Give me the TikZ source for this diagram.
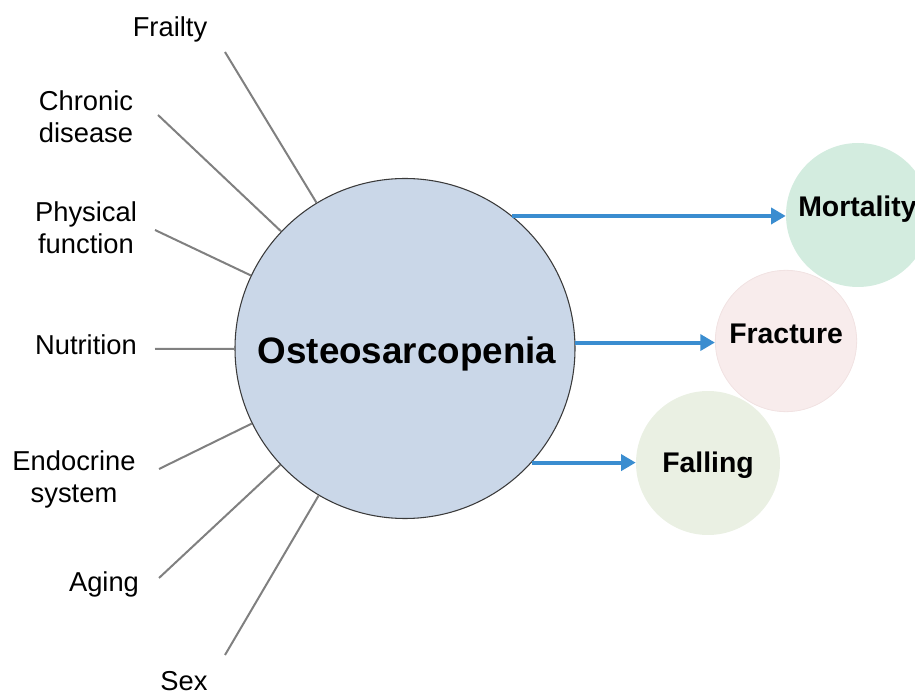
\documentclass[tikz,border=0pt]{standalone}
\usepackage{fontspec}
\setmainfont{Liberation Sans}
\usetikzlibrary{arrows.meta}
\definecolor{bigfill}{HTML}{CAD7E8}
\definecolor{bigline}{HTML}{3A3A3A}
\definecolor{mortfill}{HTML}{D3ECDF}
\definecolor{fracfill}{HTML}{F8ECEC}
\definecolor{fracline}{HTML}{F1E2E2}
\definecolor{fallfill}{HTML}{EAF0E3}
\definecolor{arrowblue}{HTML}{3A8DD0}
\definecolor{spoke}{HTML}{808080}
\begin{document}
\begin{tikzpicture}[x=0.75pt,y=-0.75pt,
  factor/.style={font=\fontsize{20.5}{24}\selectfont, align=center, inner sep=0pt},
  outcome/.style={circle, inner sep=0pt, minimum size=108pt},
  outtext/.style={font=\fontsize{21.3}{25}\selectfont\bfseries, inner sep=0pt, anchor=base west},
  spokeline/.style={draw=spoke, line width=1.5pt},
  effect/.style={draw=arrowblue, line width=3pt, -{Triangle[length=11pt,width=12pt]}}]
\clip (0,0) rectangle (915,695);
% main circle
\node[circle, fill=bigfill, draw=bigline, line width=0.8pt, minimum size=255pt, inner sep=0pt] (osteo) at (405,348.5) {};
\node[font=\fontsize{27.6}{32}\selectfont\bfseries, inner sep=0pt, anchor=base] (osteotxt) at (407,364) {Osteosarcopenia};
% outcome circles
\node[outcome, fill=mortfill] (mort) at (858,215) {};
\node[outcome, fill=fracfill, draw=fracline, line width=0.6pt, minimum size=106pt] (frac) at (786,341) {};
\node[outcome, fill=fallfill] (fall) at (708,463) {};
\node[outtext] (morttxt) at (798,217) {Mortality};
\node[outtext] (fractxt) at (729,344) {Fracture};
\node[outtext] (falltxt) at (662,473) {Falling};
% arrows
\draw[effect] (osteo.51.5) -- (osteo.51.5 -| mort.west);
\draw[effect] (osteo.2.4) -- (osteo.2.4 -| frac.west);
\draw[effect] (osteo.-42.6) -- (osteo.-42.6 -| fall.west);
% factor labels
\node[factor, anchor=base] (frailty) at (170,37) {Frailty};
\node[factor] (chronic) at (86,116.5) {Chronic\\disease};
\node[factor] (physical) at (86,228) {Physical\\function};
\node[factor, anchor=base] (nutrition) at (86,355) {Nutrition};
\node[factor] (endocrine) at (74,479) {Endocrine\\system};
\node[factor, anchor=base] (aging) at (104,591) {Aging};
\node[factor, anchor=base] (sex) at (184,690.5) {Sex};
% spoke ends
\coordinate (cfr) at (225,52);
\coordinate (cch) at (158,115);
\coordinate (cph) at (155,230);
\coordinate (cnu) at (155,349);
\coordinate (cen) at (159,469);
\coordinate (cag) at (159,578);
\coordinate (cse) at (225,655);
\foreach \c in {cfr,cch,cph,cnu,cen,cag,cse} \draw[spokeline] (\c) -- (osteo);
\end{tikzpicture}
\end{document}
